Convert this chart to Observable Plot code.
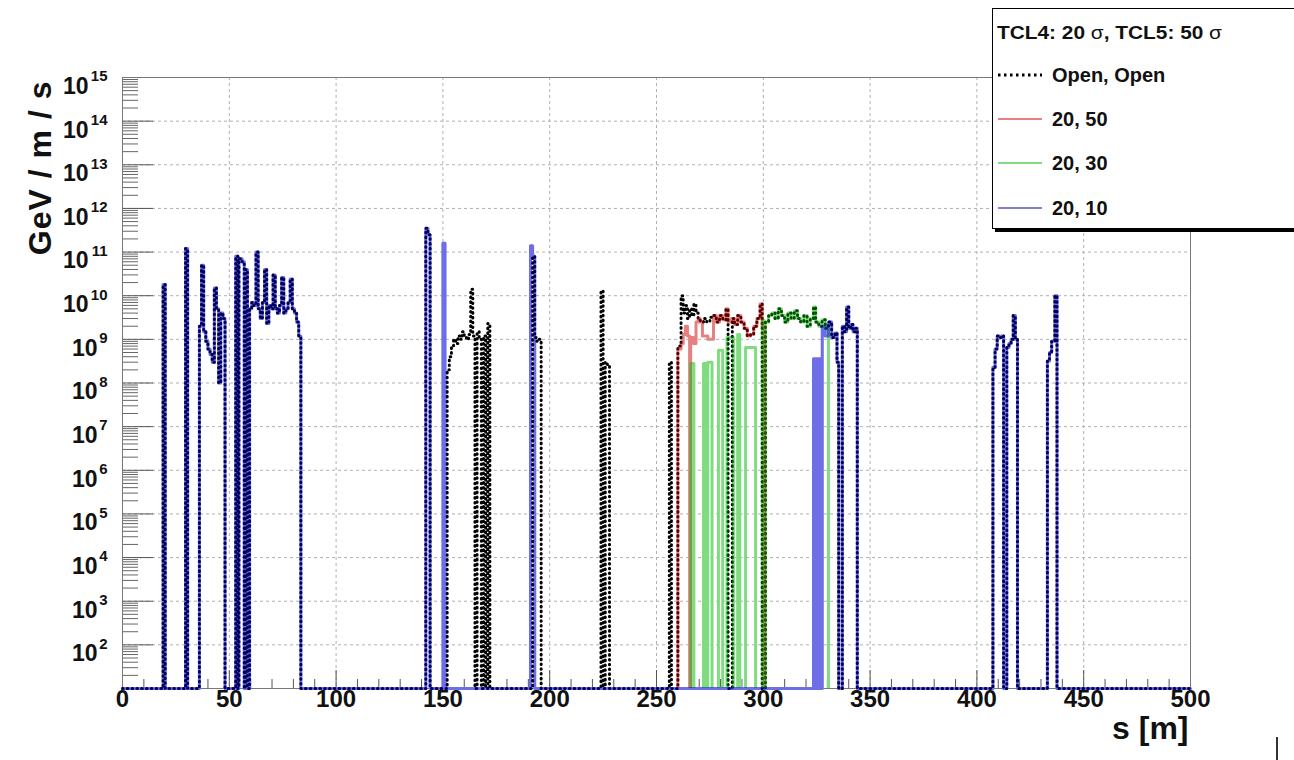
<!DOCTYPE html>
<html><head><meta charset="utf-8">
<script src="https://cdn.jsdelivr.net/npm/d3@7"></script>
<script src="https://cdn.jsdelivr.net/npm/@observablehq/plot@0.6"></script>
<style>
html,body{margin:0;padding:0;background:#fff;overflow:hidden;}
#chart{width:1294px;height:760px;overflow:hidden;}
</style></head><body><div id="chart"></div>
<script>
// ---------- data (s [m], GeV/m/s per bin, step-after; 0 = empty bin) ----------
const seriesNames = ["Open, Open", "20, 50", "20, 30", "20, 10"];
const legendTitle = "TCL4: 20 σ, TCL5: 50 σ";
const xTickLabels = [0, 50, 100, 150, 200, 250, 300, 350, 400, 450, 500];
const yExponents = [2, 3, 4, 5, 6, 7, 8, 9, 10, 11, 12, 13, 14, 15];

const openBins = [
  [0,0],[19,1.8e10],[20,0],[29.5,1.2e11],[30.5,0],
  [36,2e9],[37,5e10],[38,1.5e9],[39,9e8],[40,6e8],[41,4.5e8],[42,3e8],[43,1.5e10],[44,5e9],[45,1e8],[46,4e9],[47,3e9],[48,0],
  [53,8e10],[54,0],[54.5,7e10],[56,6e10],[57,0],[57.5,4e10],[58.5,0],
  [59.5,5e9],[60.5,7e9],[61.5,6e9],[62.5,1e11],[63.5,5e9],[64.5,3e9],[65.5,7e9],[66.5,4e10],[67.5,2.3e9],[68.5,6e9],[69.5,5e9],[70.5,3e10],[71.5,5e9],[72.5,4e9],[73.5,6e9],[74.5,2.6e10],[75.5,4e9],[76.5,5e9],[77.5,7e9],[78.5,2.4e10],[79.5,5e9],[80.5,4e9],[81.5,2.5e9],[82.5,1.2e9],[83.5,0],
  [142,3.5e11],[143,2.5e11],[144,0],
  [152,2e8],[153,4e8],[154,7e8],[155,1e9],[156,8e8],[157,1.2e9],[158,1e9],[159,1.5e9],[160,1.2e9],[161,1e9],[162,1.3e9],[163,1.4e10],[164,1.2e9],[165,0],[166,1.5e9],[167,1e9],[168,0],[169,1.2e9],[170,0],[171,2.3e9],[172,0],
  [192,8e10],[193,1.1e9],[194,9e8],[195,1e9],[196,0],
  [224,1.3e10],[225,0],[226,3e8],[227,2.5e8],[228,0],
  [256,3e8],[257,0],
  [260,7e8],[261.5,1e10],[262.5,4e9],[263.5,6e9],[264.5,3e9],[265.5,5e9],[266.5,3.5e9],[267.5,6.5e9],[268.5,4e9],[269.5,3e9],[270.5,2.5e9],[272,3e9],[273.5,2.5e9],[275,3.2e9],[276.7,3.5e9],[278,2.5e9],[279.5,3.5e9],[281,2.8e9],[282.5,5e9],[283.5,0],[285.5,3e9],[286.5,2.2e9],[288,3.5e9],[289.5,2.5e9],[291,1.8e9],[292.5,1.2e9],[294,1.3e9],[295.5,2e9],[297,3e9],[298.5,6.5e9],[299.5,0],
  [301,2.5e9],[302.5,3.5e9],[304,4e9],[305.5,3e9],[307,5e9],[308.5,3.5e9],[310,2.5e9],[311.5,4e9],[313,3e9],[314.5,4.5e9],[316,3e9],[317.5,2.5e9],[319,3.5e9],[320.5,2e9],[322,3e9],[323.5,5.5e9],[324.5,2.5e9],[326,2e9],[327.5,2.8e9],[329,1.8e9],[330.5,2.5e9],[332,1.1e9],[333.5,1.4e9],[334.5,3e8],[335.3,0],
  [337,2e9],[338,1.5e9],[339,5.5e9],[340,1.8e9],[341,2.2e9],[342,1.5e9],[343,1.8e9],[344,0],
  [407.5,2.3e8],[408.5,6e8],[409.5,1.2e9],[410.5,1.1e9],[411.5,1.2e9],[412.5,0],
  [414,6.5e8],[415,8e8],[416,1e9],[417,3.5e9],[418,1e9],[419,0],
  [433,3.2e8],[434,5e8],[435,9e8],[436.5,1e10],[437.5,0],
  [500,0]
];

const tcl50Bins = [
  [0,0],[260,6e8],[261.5,8e8],[262.5,1.3e9],[263.5,2e9],[264.5,1.2e9],[265.5,0],[266,1.1e9],[267.3,8e8],[268.5,2.5e9],[269.5,3e9],[270.5,2.5e9],[271.5,1.2e9],[274,1e9],[276.7,3.5e9],[278,2.5e9],[279.5,3.5e9],[281,2.8e9],[282.5,5e9],[283.5,2.5e9],[285,3e9],[286.5,2.2e9],[288,3.5e9],[289.5,2.5e9],[291,1.8e9],[292.5,1.2e9],[294,1.3e9],[295.5,2e9],[297,3e9],[298.5,6.5e9],[299.5,2e9],[300.5,0],
  [500,0]
];

const tcl30Bins = [
  [0,0],[266,2.8e8],[267.5,0],[272,2.8e8],[273,0],[274,3e8],[276,0],[279,5.6e8],[281,0],[283,1.1e9],[286,0],[288,1.3e9],[289,0],[291.7,6.5e8],[296.4,0],[299.5,2.7e9],[300.5,0],
  [301,2.5e9],[302.5,3.5e9],[304,4e9],[305.5,3e9],[307,5e9],[308.5,3.5e9],[310,2.5e9],[311.5,4e9],[313,3e9],[314.5,4.5e9],[316,3e9],[317.5,2.5e9],[319,3.5e9],[320.5,2e9],[322,3e9],[323.5,5.5e9],[324.5,2.5e9],[326,2e9],[327.5,2.8e9],[329,1.8e9],[330.5,0],
  [500,0]
];

const tcl10Bins = [
  [0,0],[19,1.8e10],[20,0],[29.5,1.2e11],[30.5,0],
  [36,2e9],[37,5e10],[38,1.5e9],[39,9e8],[40,6e8],[41,4.5e8],[42,3e8],[43,1.5e10],[44,5e9],[45,1e8],[46,4e9],[47,3e9],[48,0],
  [53,8e10],[54,0],[54.5,7e10],[56,6e10],[57,0],[57.5,4e10],[58.5,0],
  [59.5,5e9],[60.5,7e9],[61.5,6e9],[62.5,1e11],[63.5,5e9],[64.5,3e9],[65.5,7e9],[66.5,4e10],[67.5,2.3e9],[68.5,6e9],[69.5,5e9],[70.5,3e10],[71.5,5e9],[72.5,4e9],[73.5,6e9],[74.5,2.6e10],[75.5,4e9],[76.5,5e9],[77.5,7e9],[78.5,2.4e10],[79.5,5e9],[80.5,4e9],[81.5,2.5e9],[82.5,1.2e9],[83.5,0],
  [142,3.5e11],[143,2.5e11],[144,0],[150,1.6e11],[151,0],[191,1.4e11],[192,8e10],[193,0],
  [323.5,3.6e8],[324,0],[324.4,3.6e8],[324.8,0],[325.2,3.6e8],[325.6,0],[326,3.6e8],[326.4,0],[326.8,3.6e8],[327.2,0],
  [327.6,2e9],[329,1.2e9],[330.5,2.5e9],[332,1.1e9],[333.5,1.4e9],[334.5,3e8],[335.3,0],
  [337,2e9],[338,1.5e9],[339,5.5e9],[340,1.8e9],[341,2.2e9],[342,1.5e9],[343,1.8e9],[344,0],
  [407.5,2.3e8],[408.5,6e8],[409.5,1.2e9],[410.5,1.1e9],[411.5,1.2e9],[412.5,0],
  [414,6.5e8],[415,8e8],[416,1e9],[417,3.5e9],[418,1e9],[419,0],
  [433,3.2e8],[434,5e8],[435,9e8],[436.5,1e10],[437.5,0],
  [500,0]
];

// ---------- build ----------
const yMin = 10;
const rows = (bins, zero) => bins.map(([s, v]) => ({s, v: v > 0 ? v : zero}));
const openRows = rows(openBins, yMin);
const redRows = rows(tcl50Bins, 8);
const greenRows = rows(tcl30Bins, 8);
const blueRows = rows(tcl10Bins, yMin);

const xMinor = d3.range(10, 500, 10).filter(d => d % 50 !== 0);
const yMajor = yExponents.map(e => 10 ** e);
const yMinor = [];
for (let e = 1; e < 15; e++) for (let m = 2; m <= 9; m++) yMinor.push(m * 10 ** e);
const expRows = yExponents.map(e => ({e, v: 10 ** e}));

const W = 1294, H = 760, mL = 122, mR = 104, mT = 77, mB = 72;
const pw = W - mL - mR, ph = H - mT - mB;

const step = (data, opts) => Plot.line(data, {x: "s", y: "v", curve: "step-after", ...opts});
const font = "'Liberation Sans', Arial, Helvetica, sans-serif";

const plot = Plot.plot({
  width: W, height: H,
  marginLeft: mL, marginRight: mR, marginTop: mT, marginBottom: mB,
  x: {domain: [0, 500], axis: null},
  y: {type: "log", domain: [yMin, 1e15], axis: null},
  style: {fontFamily: font, background: "#fff", color: "#111"},
  marks: [
    Plot.ruleX(xTickLabels.slice(1, -1), {stroke: "#b0b0b0", strokeDasharray: "3,3"}),
    Plot.ruleY(yMajor.slice(0, -1), {stroke: "#b0b0b0", strokeDasharray: "3,3"}),
    Plot.ruleX(xMinor, {insetTop: ph - 9, stroke: "#555"}),
    Plot.ruleX(xTickLabels, {insetTop: ph - 18, stroke: "#555"}),
    Plot.ruleY(yMinor, {insetRight: pw - 16, stroke: "#666"}),
    Plot.ruleY(yMajor, {insetRight: pw - 31, stroke: "#555"}),
    Plot.frame({stroke: "#777"}),
    // coloured histograms (base)
    step(redRows, {stroke: "#ffecec", strokeWidth: 3, clip: true}),
    step(greenRows, {stroke: "#ecfdec", strokeWidth: 3, clip: true}),
    step(blueRows, {stroke: "#c8c8ff", strokeWidth: 3}),
    // open (dotted black)
    step(openRows, {stroke: "#000", strokeWidth: 3, strokeDasharray: "0.6,4.2", strokeLinecap: "round"}),
    // coloured tint on top
    step(redRows, {stroke: "#c80000", strokeOpacity: 0.45, strokeWidth: 3, clip: true}),
    step(greenRows, {stroke: "#00b400", strokeOpacity: 0.45, strokeWidth: 3, clip: true}),
    step(blueRows, {stroke: "#0000c8", strokeOpacity: 0.45, strokeWidth: 3}),
    // tick labels
    Plot.text(xTickLabels, {x: d => d, text: d => String(d), frameAnchor: "bottom", dy: 18, fontSize: 24, fontWeight: "bold", fill: "#111"}),
    Plot.text(expRows, {y: "v", text: d => String(d.e), frameAnchor: "left", dx: -15, dy: -1, textAnchor: "end", fontSize: 15, fontWeight: "bold", fill: "#111"}),
    Plot.text(expRows.filter(d => d.e >= 10), {y: "v", text: () => "10", frameAnchor: "left", dx: -34, dy: 9, textAnchor: "end", fontSize: 23, fontWeight: "bold", fill: "#111"}),
    Plot.text(expRows.filter(d => d.e < 10), {y: "v", text: () => "10", frameAnchor: "left", dx: -25, dy: 9, textAnchor: "end", fontSize: 23, fontWeight: "bold", fill: "#111"}),
    // axis titles
    Plot.text(["GeV / m / s"], {text: d => d, frameAnchor: "top-left", dx: 28 - mL, dy: 3, rotate: -90, textAnchor: "end", fontSize: 32, fontWeight: "bold", fill: "#111"}),
    Plot.text(["s [m]"], {text: d => d, frameAnchor: "bottom-right", dx: -2, dy: 50, textAnchor: "end", fontSize: 32, fontWeight: "bold", fill: "#111"})
  ]
});

// ---------- legend (ROOT TLegend-like box) ----------
const svg = d3.select(plot);
svg.selectAll("text").filter(function(){ return this.textContent === "GeV / m / s"; }).style("letter-spacing", "1px");
const lg = svg.append("g").attr("font-family", font).attr("font-weight", "bold").attr("fill", "#111").attr("text-anchor", "start");
lg.append("rect").attr("x", 995).attr("y", 228).attr("width", 320).attr("height", 4).attr("fill", "#000");
lg.append("rect").attr("x", 992.5).attr("y", 8.5).attr("width", 330).attr("height", 220).attr("fill", "#fff").attr("stroke", "#000");
const t = lg.append("text").attr("x", 997).attr("y", 39).attr("font-size", 19).attr("text-anchor", "start")
  .attr("textLength", 225).attr("lengthAdjust", "spacingAndGlyphs");
const parts = legendTitle.split("σ");
parts.forEach((p, i) => {
  t.append("tspan").text(p);
  if (i < parts.length - 1) t.append("tspan").attr("font-weight", "normal").text("σ");
});
const rowY = [75, 119, 163, 208];
const legendStyles = [
  {stroke: "#000", w: 3, dash: "2.5,3.5"},
  {stroke: "#e98080", w: 2, dash: null},
  {stroke: "#80dc80", w: 2, dash: null},
  {stroke: "#8080d8", w: 2, dash: null}
];
seriesNames.forEach((name, i) => {
  const ln = lg.append("line").attr("x1", 998).attr("x2", 1042).attr("y1", rowY[i]).attr("y2", rowY[i])
    .attr("stroke", legendStyles[i].stroke).attr("stroke-width", legendStyles[i].w);
  if (legendStyles[i].dash) ln.attr("stroke-dasharray", legendStyles[i].dash);
  lg.append("text").attr("x", 1052).attr("y", rowY[i] + 7).attr("font-size", 20).attr("text-anchor", "start").text(name);
});
// stray mark at bottom right of the original figure
svg.append("line").attr("x1", 1277).attr("x2", 1277).attr("y1", 737).attr("y2", 760).attr("stroke", "#333").attr("stroke-width", 2);

document.getElementById("chart").appendChild(plot);
</script></body></html>
